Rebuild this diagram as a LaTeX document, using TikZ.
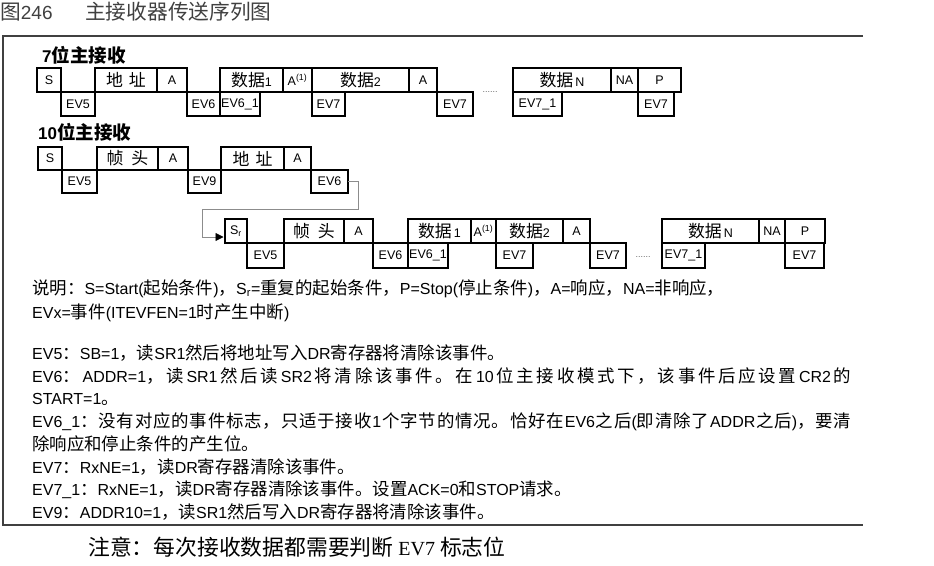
\documentclass[tikz,border=0pt]{standalone}
\usepackage{fontspec}
\setmainfont{Liberation Sans}
\newfontfamily\cjkfont[Scale=1.09]{Noto Sans CJK SC}
\newfontfamily\serifl{Liberation Serif}
\usetikzlibrary{arrows.meta}
\newcommand\z[1]{{\cjkfont #1}}
\newcommand\g{\hfill}
\newcommand\zb[1]{{\fontsize{15.5}{16}\selectfont\cjkfont #1}}
\def\zsloop#1{\ifx#1\relax\else{\cjkfont#1}\hfill\expandafter\zsloop\fi}
\newcommand\zs[1]{\zsloop#1\relax}
\tikzset{
  box/.style={draw=black, line width=1.3pt, inner sep=0pt, outer sep=0pt,
    font=\fontsize{12.5}{14}\selectfont},
  conn/.style={draw=black!45, line width=0.8pt,
    -{Triangle[length=8pt,width=8pt,color=black]}, shorten >=1.5pt},
  body/.style={anchor=base west, inner sep=0pt, font=\fontsize{16}{19}\selectfont},
  lab/.style={anchor=base west, inner sep=0pt, font=\fontsize{17}{20}\selectfont\bfseries},
  ttl/.style={anchor=base west, inner sep=0pt, text=black!75, font=\fontsize{19}{22}\selectfont},
  dotsn/.style={inner sep=0pt, text=black!60, font=\fontsize{9}{10}\selectfont},
  frame/.style={draw=black!75, line width=1.4pt},
}
\newcommand\bx[6]{%
 \pgfmathsetmacro\bw{#4-#2}\pgfmathsetmacro\bh{#5-#3}%
 \node[box, minimum width=\bw pt, minimum height=\bh pt, anchor=north west] (#1) at (#2,#3) {#6};}
\begin{document}
\begin{tikzpicture}[x=1pt,y=-1pt]
\useasboundingbox (0,0) rectangle (934,565);
% title
\node[ttl] (title1) at (0,19) {\z{图}246};
\node[ttl] (title2) at (85,19) {\z{主接收器传送序列图}};
% frame
\draw[frame] (863,36) -- (3,36) -- (3,525) -- (863,525);
% labels
\node[lab] (lab7) at (42,62) {7\z{位主接收}};
\node[lab] (lab10) at (38,139) {10\z{位主接收}};
% row 1 (7-bit)
\bx{a1}{37}{68}{61}{92}{S}
\bx{a2}{95}{68}{157}{92}{\zb{地\hspace{6pt}址}}
\bx{a3}{157}{68}{187}{92}{A}
\bx{a4}{220}{68}{283}{92}{\zb{数据}1}
\bx{a5}{283}{68}{312}{92}{A\textsuperscript{(1)}}
\bx{a6}{312}{68}{409}{92}{\zb{数据}2}
\bx{a7}{409}{68}{437}{92}{A}
\bx{a8}{513}{68}{611}{92}{\zb{数据}\,N}
\bx{a9}{611}{68}{638}{92}{NA}
\bx{a10}{638}{68}{681}{92}{P}
\bx{b1}{61}{92}{95}{116}{EV5}
\bx{b2}{187}{92}{220}{116}{EV6}
\bx{b3}{220}{92}{260}{116}{EV6\_1}
\bx{b4}{312}{92}{345}{116}{EV7}
\bx{b5}{437}{92}{473}{116}{EV7}
\bx{b6}{513}{92}{562}{116}{EV7\_1}
\bx{b7}{638}{92}{674}{116}{EV7}
\node[dotsn] (dots1) at (490,92) {......};
% row 2a (10-bit)
\bx{c1}{38}{147}{62}{170}{S}
\bx{c2}{97}{147}{158}{170}{\zb{帧\hspace{8pt}头}}
\bx{c3}{158}{147}{188}{170}{A}
\bx{c4}{221}{147}{284}{170}{\zb{地\hspace{6pt}址}}
\bx{c5}{284}{147}{311}{170}{A}
\bx{d1}{62}{170}{97}{193}{EV5}
\bx{d2}{188}{170}{221}{193}{EV9}
\bx{d3}{311}{170}{348}{193}{EV6}
% row 2b
\bx{e1}{225}{219}{247}{243}{S\textsubscript{r}}
\bx{e2}{284}{219}{344}{243}{\zb{帧\hspace{8pt}头}}
\bx{e3}{344}{219}{373}{243}{A}
\bx{e4}{408}{219}{471}{243}{\zb{数据}\,1}
\bx{e5}{471}{219}{496}{243}{A\textsuperscript{(1)}}
\bx{e6}{496}{219}{563}{243}{\zb{数据}2}
\bx{e7}{563}{219}{590}{243}{A}
\bx{e8}{662}{219}{759}{243}{\zb{数据}\,N}
\bx{e9}{759}{219}{785}{243}{NA}
\bx{e10}{785}{219}{825}{243}{P}
\bx{f1}{247}{243}{284}{268}{EV5}
\bx{f2}{373}{243}{408}{268}{EV6}
\bx{f3}{408}{243}{448}{268}{EV6\_1}
\bx{f4}{496}{243}{533}{268}{EV7}
\bx{f5}{590}{243}{626}{268}{EV7}
\bx{f6}{662}{243}{705}{268}{EV7\_1}
\bx{f7}{785}{243}{824}{268}{EV7}
\node[dotsn] (dots2) at (643,257) {......};
% connector
\coordinate (bend) at (202,209);
\draw[conn] (d3.east) -- ++(10,0) |- (bend) |- ([yshift=6pt]e1.south west);
% explanation text
\node[body] (t1) at (32,294) {\z{说明：}S=Start(\z{起始条件})\z{，}S\textsubscript{r}=\z{重复的起始条件，}P=Stop(\z{停止条件})\z{，}A=\z{响应，}NA=\z{非响应，}};
\node[body] (t2) at (32,318) {EVx=\z{事件}(ITEVFEN=1\z{时产生中断})};
\node[body] (t3) at (32,359) {EV5\z{：}SB=1\z{，读}SR1\z{然后将地址写入}DR\z{寄存器将清除该事件。}};
\node[body] (t4) at (32,382) {\makebox[819pt][s]{EV6\z{：}\g ADDR=1\z{，}\g\zs{读}SR1\g\zs{然后读}SR2\g\zs{将清除该事件。在}10\g\zs{位主接收模式下，该事件后应设置}CR2\g\z{的}}};
\node[body] (t5) at (32,404) {START=1\z{。}};
\node[body] (t6) at (32,427) {\makebox[819pt][s]{EV6\_1\z{：}\g\zs{没有对应的事件标志，只适于接收}1\g\zs{个字节的情况。恰好在}EV6\g\z{之}\g\z{后}(\zs{即清除了}ADDR\g\z{之}\g\z{后})\z{，}\g\z{要}\g\z{清}}};
\node[body] (t7) at (32,450) {\z{除响应和停止条件的产生位。}};
\node[body] (t8) at (32,473) {EV7\z{：}RxNE=1\z{，读}DR\z{寄存器清除该事件。}};
\node[body] (t9) at (32,495) {EV7\_1\z{：}RxNE=1\z{，读}DR\z{寄存器清除该事件。设置}ACK=0\z{和}STOP\z{请求。}};
\node[body] (t10) at (32,518) {EV9\z{：}ADDR10=1\z{，读}SR1\z{然后写入}DR\z{寄存器将清除该事件。}};
% note
\node[anchor=base west, inner sep=0pt, font=\fontsize{20}{24}\selectfont\serifl] (note) at (88,555) {\z{注意：每次接收数据都需要判断}\ EV7\ \z{标志位}};
\end{tikzpicture}
\end{document}
